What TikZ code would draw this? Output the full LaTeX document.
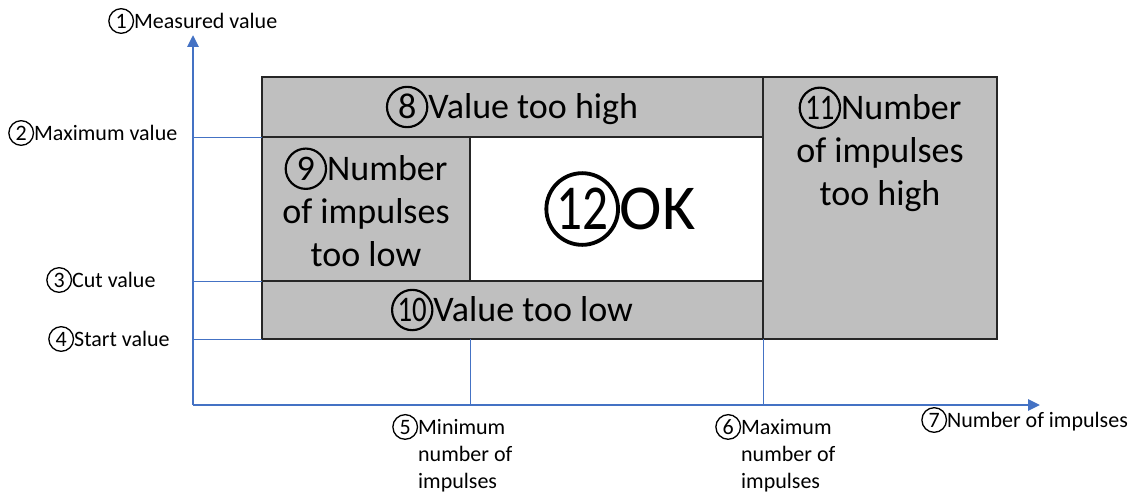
\documentclass[tikz,border=0pt]{standalone}
\usepackage{fontspec}
\setmainfont{Carlito}
\usetikzlibrary{arrows.meta}
\definecolor{axisblue}{HTML}{4472C4}
\definecolor{boxgray}{HTML}{BFBFBF}
\newcommand\cnum[2][1]{\tikz[baseline=(cn.base)]\node[circle,draw=black,line width=0.06em,inner sep=0pt,minimum size=1.12em,text height=0.64em,text depth=0pt](cn){\scalebox{#1}[1]{#2}};}
\begin{document}
\begin{tikzpicture}[x=1pt,y=-1pt,
  axis/.style={axisblue,line width=2.8pt,-{Triangle[length=12pt,width=11pt]}},
  guide/.style={axisblue,line width=1pt},
  frame/.style={black!85,line width=1.6pt},
  small/.style={font=\fontsize{22}{27}\selectfont,inner sep=0pt},
  big/.style={font=\fontsize{36}{43}\selectfont,inner sep=0pt,align=center},
]
\path[use as bounding box,fill=white] (0,0) rectangle (1131,495);
% grid coordinates
\coordinate (O) at (193,405);
\coordinate (Ytip) at (193,35);
\coordinate (Xtip) at (1040,405);
\coordinate (TL) at (262,77);
\coordinate (BR) at (997,339);
\coordinate (Mtop) at (763,77);
\coordinate (Mbot) at (763,339);
\coordinate (MaxL) at (262,137);
\coordinate (MaxR) at (763,137);
\coordinate (CutL) at (262,281);
\coordinate (CutR) at (763,281);
\coordinate (StartL) at (262,339);
\coordinate (MinT) at (470,137);
\coordinate (MinB) at (470,281);
\coordinate (MinBox) at (470,339);
% regions
\fill[boxgray] (TL) rectangle (BR);
\fill[white] (MinT) rectangle (CutR);
\draw[frame] (TL) rectangle (BR);
\draw[frame] (Mtop) -- (Mbot);
\draw[frame] (MaxL) -- (MaxR);
\draw[frame] (CutL) -- (CutR);
\draw[frame] (MinT) -- (MinB);
% guides
\draw[guide] (O |- MaxL) -- (MaxL);
\draw[guide] (O |- CutL) -- (CutL);
\draw[guide] (O |- StartL) -- (StartL);
\draw[guide] (MinBox) -- (MinBox |- O);
\draw[guide] (Mbot) -- (Mbot |- O);
% axes
\draw[axis] (O) -- (Ytip);
\draw[axis] (O) -- (Xtip);
% axis labels
\node[small,anchor=west] (l1) at (108,21) {\cnum{1}Measured value};
\node[small,anchor=west] (l2) at (8,133) {\cnum{2}Maximum value};
\node[small,anchor=west] (l3) at (46,280) {\cnum{3}Cut value};
\node[small,anchor=west] (l4) at (48,339) {\cnum{4}Start value};
\node[small,anchor=base west] (l5) at (392,434) {\begin{tabular}[t]{@{}l@{}l@{}}\cnum{5}&Minimum\\&number of\\&impulses\end{tabular}};
\node[small,anchor=base west] (l6) at (715,434) {\begin{tabular}[t]{@{}l@{}l@{}}\cnum{6}&Maximum\\&number of\\&impulses\end{tabular}};
\node[small,anchor=west] (l7) at (921,420) {\cnum{7}Number of impulses};
% region labels
\node[big] (r8) at (512,107) {\cnum{8}Value too high};
\node[big] (r9) at (366,207) {\cnum{9}Number\\of impulses\\too low};
\node[big] (r10) at (512,310) {\cnum[0.8]{10}Value too low};
\node[big] (r11) at (880,149) {\cnum[0.8]{11}Number\\of impulses\\too high};
\node[font=\fontsize{64}{70}\selectfont,inner sep=0pt] (r12) at (620,209) {\cnum[0.8]{12}OK};
\end{tikzpicture}
\end{document}
